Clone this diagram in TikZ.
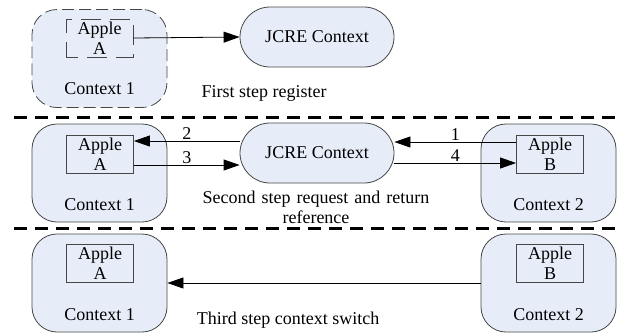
\documentclass[tikz,border=0pt]{standalone}
\usepackage{fontspec}
\setmainfont{Liberation Serif}
\usetikzlibrary{arrows.meta,positioning}
\definecolor{boxFill}{RGB}{231,237,248}
\definecolor{boxLine}{RGB}{70,70,70}
\tikzset{>={Triangle[length=16pt,width=11pt]},
  every node/.style={font=\fontsize{18pt}{20pt}\selectfont},
  context/.style={draw=boxLine,fill=boxFill,line width=0.8pt,rounded corners=25pt,
    minimum width=135pt,minimum height=98pt,inner sep=0pt},
  jcre/.style={draw=boxLine,fill=boxFill,line width=0.8pt,rounded corners=30pt,
    minimum width=154pt,minimum height=60pt,inner sep=0pt},
  applet/.style={draw=boxLine,fill=boxFill,line width=0.8pt,align=center,
    minimum width=67pt,minimum height=38pt,inner sep=0pt},
  separator/.style={line width=3pt,dash pattern=on 13pt off 8pt},
  flow/.style={->,line width=0.8pt}}

\begin{document}
\begin{tikzpicture}[x=1pt,y=-1pt]
  \useasboundingbox (0,0) rectangle (621,333);

  % first step
  \node [context,dashed,dash pattern=on 12pt off 5pt] (ctxOneA) at (99.5,58.5) {};
  \node [applet,dash pattern=on 20pt off 9pt,dash phase=8pt] (appOneA) at (99.5,38) {Apple\\A};
  \node (lblOneA) at (99.5,89) {Context 1};
  \node [jcre] (jcreOne) at (317,37) {JCRE Context};
  \node (stepOne) at (264,93) {First step register};
  \draw [flow] (appOneA.east) -- (jcreOne.west);

  \draw [separator] (14,117) -- (621,117);

  % second step
  \node [context] (ctxTwoA) at (99.5,173) {};
  \node [applet] (appTwoA) at (100,154) {Apple\\A};
  \node (lblTwoA) at (99.5,205) {Context 1};
  \node [jcre] (jcreTwo) at (317,153) {JCRE Context};
  \node [context] (ctxTwoB) at (548.5,173) {};
  \node [applet] (appTwoB) at (550,154) {Apple\\B};
  \node (lblTwoB) at (548.5,205) {Context 2};
  \node [align=center,text width=250pt] (stepTwo) at (316,207)
    {Second step request and return\\reference};

  \draw [flow] ([yshift=12pt]appTwoB.west) -- ([yshift=12pt]appTwoB.west -| jcreTwo.east)
    node [pos=0.5,above=-2pt] (numOne) {1};
  \draw [flow] ([yshift=12pt]jcreTwo.west) -- ([yshift=12pt]jcreTwo.west -| appTwoA.east)
    node [pos=0.5,above=-2pt] (numTwo) {2};
  \draw [flow] ([yshift=-11pt]appTwoA.east) -- ([yshift=-11pt]appTwoA.east -| jcreTwo.west)
    node [pos=0.5,above=-2pt] (numThree) {3};
  \draw [flow] ([yshift=-10pt]jcreTwo.east) -- ([yshift=-10pt]jcreTwo.east -| appTwoB.west)
    node [pos=0.5,above=-2pt] (numFour) {4};

  \draw [separator] (14,228) -- (621,228);

  % third step
  \node [context] (ctxThreeA) at (99.5,283) {};
  \node [applet] (appThreeA) at (100,263) {Apple\\A};
  \node (lblThreeA) at (99.5,315) {Context 1};
  \node [context] (ctxThreeB) at (548.5,283) {};
  \node [applet] (appThreeB) at (550,263) {Apple\\B};
  \node (lblThreeB) at (548.5,315) {Context 2};
  \node (stepThree) at (288,320) {Third step context switch};
  \draw [flow] (ctxThreeB.west) -- (ctxThreeA.east);

\end{tikzpicture}
\end{document}
